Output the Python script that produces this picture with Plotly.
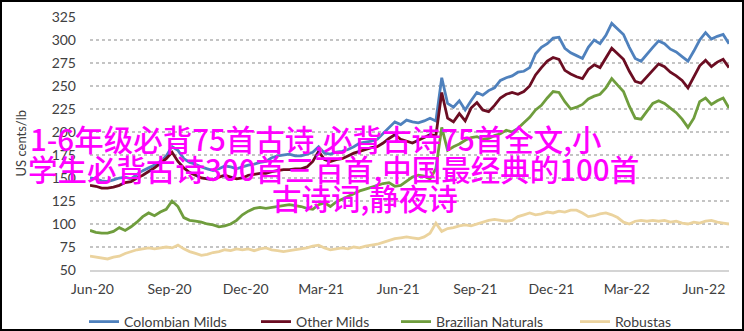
import pandas as pd
import plotly.graph_objects as go

dates = pd.date_range("2020-05-29", periods=110, freq="7D")

colombian_milds = [
    150, 149, 147, 146, 148, 150, 151, 149, 154, 158,
    161, 164, 168, 174, 184, 180, 171, 167, 165, 162,
    160, 158, 160, 163, 162, 160, 162, 164, 165, 167,
    168, 172, 174, 175, 176, 174, 174, 176, 178, 184,
    177, 176, 178, 179, 181, 184, 188, 189, 190, 192,
    198, 205, 211, 208, 213, 211, 210, 212, 215, 212,
    259, 231, 227, 234, 224, 234, 243, 240, 245, 248,
    256, 259, 261, 265, 266, 270, 285, 292, 296, 302,
    303, 291, 286, 283, 280, 292, 300, 296, 305, 318,
    312, 306, 292, 280, 277, 285, 292, 299, 296, 290,
    287, 282, 277, 288, 300, 308, 301, 304, 306, 296,
]

other_milds = [
    142, 141, 139, 139, 140, 142, 145, 146, 150, 153,
    157, 161, 166, 171, 178, 168, 161, 156, 153, 150,
    149, 148, 151, 153, 151, 149, 150, 153, 154, 155,
    155, 157, 158, 159, 159, 160, 160, 162, 168, 179,
    170, 168, 170, 171, 174, 177, 179, 181, 183, 184,
    188, 193, 197, 192, 190, 188, 191, 194, 197, 196,
    243, 215, 211, 220, 212, 226, 232, 224, 222, 229,
    237, 241, 243, 241, 244, 250, 262, 270, 277, 281,
    279, 267, 263, 260, 258, 268, 273, 270, 280, 291,
    285, 279, 266, 255, 253, 260, 267, 274, 271, 265,
    261, 256, 248, 260, 272, 278, 271, 276, 279, 270,
]

brazilian_naturals = [
    93, 91, 90, 90, 92, 96, 93, 97, 102, 108,
    112, 109, 113, 116, 125, 119, 107, 104, 103, 102,
    100, 99, 97, 98, 100, 104, 110, 114, 117, 118,
    117, 118, 119, 120, 121, 120, 119, 117, 116, 121,
    123, 119, 124, 127, 130, 133, 136, 138, 140, 142,
    144, 145, 141, 142, 147, 151, 153, 152, 149, 160,
    205, 180, 184, 187, 191, 194, 195, 192, 193, 196,
    198, 202, 200, 204, 210, 216, 224, 229, 237, 244,
    243, 233, 225, 227, 230, 236, 239, 241, 248, 258,
    251, 244, 228, 215, 214, 222, 231, 234, 231, 226,
    221, 214, 205, 215, 233, 237, 230, 234, 237, 226,
]

robustas = [
    65, 64, 63, 62, 64, 65, 68, 70, 72, 73,
    74, 73, 74, 75, 74, 77, 73, 70, 68, 66,
    67, 69, 70, 72, 71, 73, 72, 73, 71, 73,
    74, 72, 71, 70, 71, 72, 73, 74, 76, 77,
    74, 72, 73, 74, 73, 75, 74, 76, 77, 78,
    80, 82, 84, 85, 86, 85, 84, 86, 90, 101,
    92, 95, 96, 98, 99, 98, 100, 102, 104, 105,
    104, 103, 104, 108, 110, 112, 110, 111, 113, 112,
    114, 113, 115, 115, 112, 108, 109, 111, 112, 110,
    107, 102, 100, 103, 104, 103, 104, 103, 104, 102,
    103, 101, 100, 102, 101, 103, 104, 102, 101, 100,
]

series_names = ["Colombian Milds", "Other Milds", "Brazilian Naturals", "Robustas"]
series_values = [colombian_milds, other_milds, brazilian_naturals, robustas]
series_colors = ["#4f81bd", "#6b0d22", "#6f9d3d", "#ebd39e"]
legend_widths = [127, 95, 134, 80]

y_ticks = [50, 75, 100, 125, 150, 175, 200, 225, 250, 275, 300, 325]
y_title = "US cents/lb"
overlay_lines = [
    "1-6年级必背75首古诗,必背古诗75首全文,小",
    "学生必背古诗300首三百首,中国最经典的100首",
    "古诗词,静夜诗",
]

W, H = 744, 331
ML, MR, MT, MB = 90, 15, 17, 61
PW, PH = W - ML - MR, H - MT - MB


def px_x(p):
    return (p - ML) / PW


def px_y(p):
    return (H - MB - p) / PH


fig = go.Figure()
for name, vals, col, lw in zip(series_names, series_values, series_colors, legend_widths):
    fig.add_trace(go.Scatter(
        x=dates, y=vals, name=name, mode="lines",
        line=dict(color=col, width=2.8),
        legendwidth=lw,
    ))

font_main = "Lato, 'Open Sans', sans-serif"
tick_col = "#404040"

fig.update_layout(
    width=W, height=H,
    margin=dict(l=ML, r=MR, t=MT, b=MB, autoexpand=False),
    paper_bgcolor="white", plot_bgcolor="white",
    font=dict(family=font_main, size=14, color=tick_col),
    showlegend=True,
    legend=dict(
        orientation="h", x=px_x(84), xanchor="left",
        y=px_y(322), yanchor="middle",
        font=dict(family=font_main, size=14, color=tick_col),
        bgcolor="rgba(0,0,0,0)",
    ),
    xaxis=dict(
        type="date", range=[dates[0], dates[-1]],
        tickformat="%b-%y", dtick="M3", tick0="2020-06-01",
        showgrid=False, zeroline=False,
        showline=True, linecolor="#d4d4d4", linewidth=1.5,
        ticks="", ticklabelstandoff=5,
        tickfont=dict(family=font_main, size=14, color=tick_col),
    ),
    yaxis=dict(
        range=[50, 325], tickvals=y_ticks,
        showgrid=True, gridcolor="#c4c4c4", griddash="dot", gridwidth=1.5,
        zeroline=False, showline=False, ticks="",
        ticklabelstandoff=13,
        tickfont=dict(family=font_main, size=14, color=tick_col),
    ),
)

# y-axis title
fig.add_annotation(
    text=y_title, xref="paper", yref="paper",
    x=px_x(20), y=0.5, xanchor="center", yanchor="middle",
    textangle=-90, showarrow=False,
    font=dict(family=font_main, size=13, color=tick_col),
)

overlay_pos = [(316, 138), (333, 168), (365, 197)]
for line, (lx, ly) in zip(overlay_lines, overlay_pos):
    fig.add_annotation(
        text=line, xref="paper", yref="paper",
        x=px_x(lx), y=px_y(ly), xanchor="center", yanchor="middle",
        showarrow=False,
        font=dict(family="Noto Sans CJK SC", size=29.5, color="#ff00ff",
                  weight=500),
    )

# outer frame
fig.add_shape(
    type="rect", xref="paper", yref="paper",
    x0=px_x(1), x1=px_x(743), y0=px_y(330), y1=px_y(1),
    line=dict(color="black", width=2), fillcolor="rgba(0,0,0,0)",
    layer="above",
)

fig.write_html("out.html")
